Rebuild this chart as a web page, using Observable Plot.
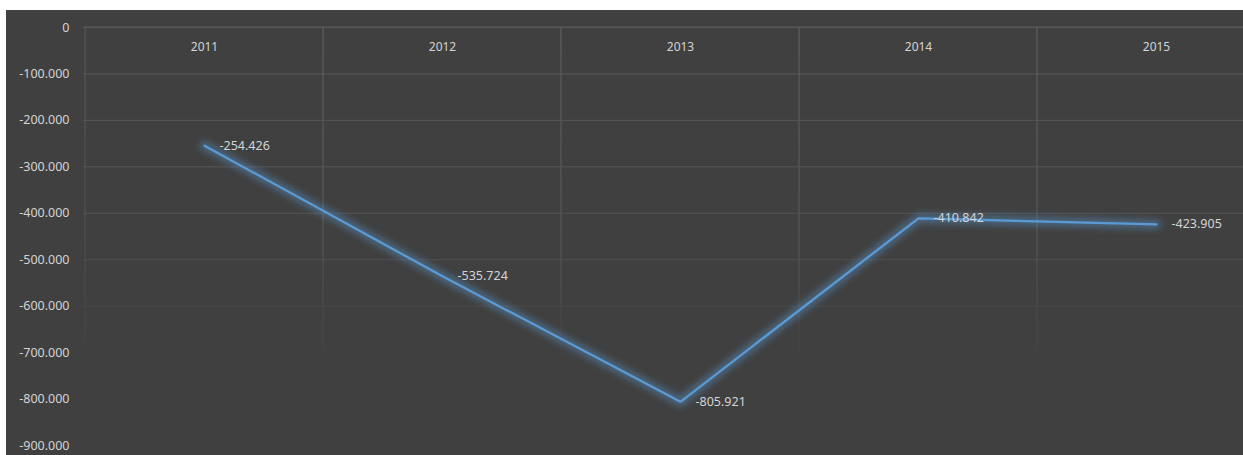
<!DOCTYPE html>
<html>
<head>
<meta charset="utf-8">
<script src="https://cdn.jsdelivr.net/npm/d3@7"></script>
<script src="https://cdn.jsdelivr.net/npm/@observablehq/plot@0.6"></script>
<style>
  html, body { margin: 0; padding: 0; background: #ffffff; overflow: hidden; }
  #frame { position: absolute; left: 6px; top: 10px; width: 1237px; height: 445px; background: #404040; overflow: hidden; }
  #frame svg { display: block; max-width: none !important; height: 445px !important; width: 1270px !important; }
</style>
</head>
<body>
<div id="frame"></div>
<script>
const years = ["2011", "2012", "2013", "2014", "2015"];
const values = [-254426, -535724, -805921, -410842, -423905];
const yTicks = [0, -100000, -200000, -300000, -400000, -500000, -600000, -700000, -800000, -900000];
const gridValues = [0, -100000, -200000, -300000, -400000, -500000, -600000, -700000];
const gridBottom = -730000;

const data = years.map((y, i) => ({year: y, value: values[i]}));
const locale = d3.formatLocale({decimal: ",", thousands: ".", grouping: [3], currency: ["", ""], minus: "-"});
const fmt = locale.format(",d");

const lineColor = "#5b9bd5";
const textColor = "#d4d4d4";

const defsMark = (index, scales) => {
  const defs = d3.create("svg:defs");
  const g = defs.append("linearGradient")
    .attr("id", "gridfade")
    .attr("gradientUnits", "userSpaceOnUse")
    .attr("x1", 0).attr("x2", 0)
    .attr("y1", scales.y(0)).attr("y2", scales.y(gridBottom));
  g.append("stop").attr("offset", "0").attr("stop-color", "#585858");
  g.append("stop").attr("offset", "0.6").attr("stop-color", "#525252");
  g.append("stop").attr("offset", "1").attr("stop-color", "#404040");
  return defs.node();
};

const chart = Plot.plot({
  width: 1270,
  height: 445,
  marginLeft: 77,
  marginRight: 0,
  marginTop: 17,
  marginBottom: 10,
  style: {background: "transparent", color: textColor, fontFamily: "'Segoe UI', 'Noto Sans', sans-serif", fontSize: "12.5px"},
  x: {type: "band", domain: years, padding: 0},
  y: {domain: [-900000, 0]},
  marks: [
    defsMark,
    Plot.ruleY(gridValues, {stroke: "url(#gridfade)", strokeWidth: 1}),
    Plot.barY(years, {x: d => d, y1: 0, y2: gridBottom, fill: "none", stroke: "url(#gridfade)", strokeWidth: 1}),
    Plot.axisY({ticks: yTicks, tickFormat: d => d === 0 ? "0" : fmt(d), tickSize: 0, tickPadding: 14, fill: textColor, fontSize: 12.5, label: null}),
    Plot.axisX({anchor: "top", tickSize: 0, tickPadding: 0, lineAnchor: "middle", dy: 20, fill: textColor, fontSize: 12, label: null}),
    Plot.line(data, {x: "year", y: "value", stroke: lineColor, strokeWidth: 10, strokeOpacity: 0.4, strokeLinejoin: "round", strokeLinecap: "round"}),
    Plot.line(data, {x: "year", y: "value", stroke: lineColor, strokeWidth: 2.25, strokeLinejoin: "miter"}),
    Plot.text(data, {x: "year", y: "value", text: d => fmt(d.value), textAnchor: "start", dx: 15, fill: textColor, fontSize: 12.5})
  ]
});

const lines = chart.querySelectorAll("g[aria-label='line']");
if (lines.length) lines[0].style.filter = "blur(3px)";
document.getElementById("frame").appendChild(chart);
</script>
</body>
</html>
